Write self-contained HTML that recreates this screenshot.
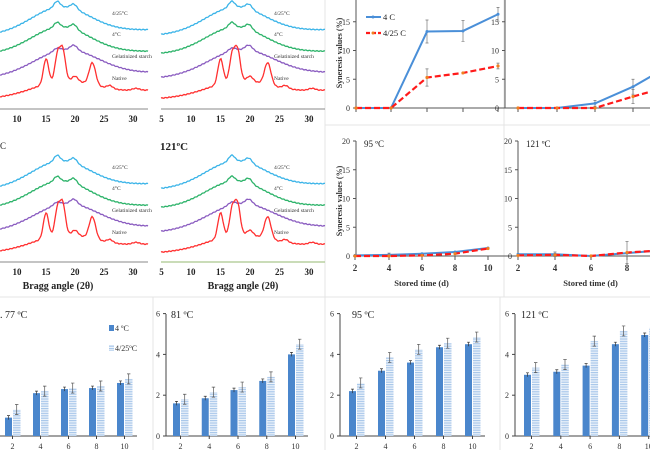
<!DOCTYPE html>
<html><head><meta charset="utf-8">
<style>
html,body{margin:0;padding:0;background:#fff;}
svg{display:block;font-family:"Liberation Serif",serif;}
</style></head>
<body>
<svg id="s" width="650" height="450" viewBox="0 0 650 450" xmlns="http://www.w3.org/2000/svg">
<defs>
<pattern id="hz" width="4" height="2.4" patternUnits="userSpaceOnUse">
<rect width="4" height="2.4" fill="#eef4fb"/><rect width="4" height="1.2" fill="#a9c7ea"/>
</pattern>
</defs>
<!-- panel separators -->
<g stroke="#e4e4e4" stroke-width="1">
<line x1="325" y1="0" x2="325" y2="297"/>
<line x1="504" y1="0" x2="504" y2="297"/>
<line x1="325" y1="125" x2="650" y2="125"/>
<line x1="0" y1="297" x2="650" y2="297"/>
<line x1="153" y1="297" x2="153" y2="450"/>
<line x1="325" y1="297" x2="325" y2="450"/>
<line x1="500" y1="297" x2="500" y2="450"/>
</g>
<g id="xrd"></g>
<g id="lines"></g>
<g id="bars"></g>
</svg>
<script>
const NS="http://www.w3.org/2000/svg";
function el(tag,attrs,parent,text){const e=document.createElementNS(NS,tag);for(const k in attrs)e.setAttribute(k,attrs[k]);if(text!==undefined)e.textContent=text;(parent||document.getElementById('s')).appendChild(e);return e;}
const g=(x,c,s)=>Math.exp(-0.5*((x-c)/s)**2);
// XRD panels
function xrd(x10,ppd,axisY,off,labelX,xmin,xmax,ticks){
  const X=t=>x10+(t-10)*ppd;
  const P=document.getElementById('xrd');
  el('line',{x1:xmin,y1:axisY,x2:xmax,y2:axisY,stroke:'#888','stroke-width':1},P);
  ticks.forEach(t=>el('text',{x:X(t),y:axisY+13,'font-size':9,'font-weight':'bold','text-anchor':'middle',fill:'#222'},P,t));
  const curves=[
   {c:'#3bb4e8',f:t=>35-(t-7)*0.2-26*g(t,17.5,5)-6*g(t,16.9,0.5)-5*g(t,19.8,0.55)+off*0},
   {c:'#2db36a',f:t=>54-(t-7)*0.1-26*g(t,17.5,5)-5*g(t,16.9,0.5)-5*g(t,19.8,0.55)},
   {c:'#8a5cc0',f:t=>78-(t-7)*0.2-26*g(t,18.5,5.5)-3*g(t,16.9,0.6)-5*g(t,19.8,0.6)},
   {c:'#ff3030',f:t=>98-(t-7)*0.3-14*g(t,18,5)-25*g(t,15,0.45)-27*g(t,17,0.45)-30*g(t,17.9,0.45)-5*g(t,20,0.5)-22*g(t,23,0.55)-3*g(t,26,0.5)-2*g(t,30.5,0.6)}
  ];
  curves.forEach(cv=>{let d='';for(let t=xmin;t<=xmax;t+=1){const th=10+(t-x10)/ppd;const y=cv.f(th)+off+Math.sin(t*1.7)*0.4;d+=(d?'L':'M')+t+','+y.toFixed(1);}
    el('path',{d:d,fill:'none',stroke:cv.c,'stroke-width':1.3},P);});
  const L=[['4/25°C',15],['4°C',36],['Gelatinized starch',58],['Native',80]];
  L.forEach(l=>el('text',{x:labelX,y:l[1]+off,'font-size':5.5,fill:'#333'},P,l[0]));
}
xrd(17,5.8,109,0,112,0,148,[10,15,20,25,30]);
xrd(191,5.9,109,0,274,161,325,[5,10,15,20,25,30]);
xrd(17,5.8,262,154,112,0,148,[10,15,20,25,30]);
xrd(191,5.9,262,154,274,161,325,[5,10,15,20,25,30]);
(function(){const P=document.getElementById('xrd');
el('text',{x:160,y:150,'font-size':11,'font-weight':'bold',fill:'#222'},P,'121ºC');
el('text',{x:0,y:149,'font-size':9,fill:'#222'},P,'C');
el('text',{x:58,y:289,'font-size':10,'font-weight':'bold','text-anchor':'middle',fill:'#222'},P,'Bragg angle (2θ)');
el('text',{x:243,y:289,'font-size':10,'font-weight':'bold','text-anchor':'middle',fill:'#222'},P,'Bragg angle (2θ)');
el('line',{x1:161,y1:262,x2:325,y2:262,stroke:'#b8d0a0','stroke-width':1.5},P);
})();
// line charts
function lineChart(ax,y0,xs,a,b,title,ylab,xlab,ea,eb){
  const P=document.getElementById('lines');const u=5.75;const Y=v=>y0-v*u;
  el('line',{x1:ax,y1:y0-115,x2:ax,y2:y0,stroke:'#555'},P);
  el('line',{x1:ax,y1:y0,x2:650,y2:y0,stroke:'#555'},P);
  [0,5,10,15,20].forEach(v=>{if(Y(v)<y0-116)return;el('line',{x1:ax-3,y1:Y(v),x2:ax,y2:Y(v),stroke:'#555'},P);el('text',{x:ax-6,y:Y(v)+3,'font-size':8,'text-anchor':'end',fill:'#333'},P,v);});
  xs.forEach(x=>el('line',{x1:x,y1:y0,x2:x,y2:y0+4,stroke:'#555'},P));
  if(xlab){[2,4,6,8,10].forEach((v,i)=>el('text',{x:xs[i],y:y0+15,'font-size':9,'font-weight':'bold','text-anchor':'middle',fill:'#333'},P,v));
    el('text',{x:(xs[0]+xs[4])/2,y:y0+30,'font-size':8.5,'font-weight':'bold','text-anchor':'middle',fill:'#333'},P,'Stored time (d)');}
  if(ylab)el('text',{x:0,y:0,'font-size':8,'font-weight':'bold','text-anchor':'middle',fill:'#333',transform:`translate(${ax-14},${y0-55}) rotate(-90)`},P,'Syneresis values (%)');
  if(title)el('text',{x:ax+8,y:y0-109,'font-size':9,fill:'#222'},P,title);
  // errors
  if(ea)ea.forEach((e,i)=>{if(!e)return;const x=xs[i];el('path',{d:`M${x},${Y(a[i]-e)}V${Y(a[i]+e)}M${x-1.5},${Y(a[i]-e)}h3M${x-1.5},${Y(a[i]+e)}h3`,stroke:'#777','stroke-width':0.7,fill:'none'},P);});
  if(eb)eb.forEach((e,i)=>{if(!e)return;const x=xs[i];el('path',{d:`M${x},${Y(b[i]-e)}V${Y(b[i]+e)}M${x-1.5},${Y(b[i]-e)}h3M${x-1.5},${Y(b[i]+e)}h3`,stroke:'#777','stroke-width':0.7,fill:'none'},P);});
  el('polyline',{points:xs.map((x,i)=>x+','+Y(a[i])).join(' '),fill:'none',stroke:'#4a8fd8','stroke-width':2},P);
  xs.forEach((x,i)=>el('circle',{cx:x,cy:Y(a[i]),r:1.5,fill:'#4a8fd8'},P));
  el('polyline',{points:xs.map((x,i)=>x+','+Y(b[i])).join(' '),fill:'none',stroke:'#ff1a1a','stroke-width':2.2,'stroke-dasharray':'6,3'},P);
  xs.forEach((x,i)=>el('circle',{cx:x,cy:Y(b[i]),r:1.6,fill:'#f08020'},P));
}
lineChart(356,108,[356,391,427,463,498],[0,0,13.3,13.4,16.3],[0,0,5.3,6.1,7.3],null,true,false,[0,0,2,1.8,1.2],[0,0,1.5,0,0.5]);
lineChart(505,108,[518,557,595,633,671],[0,0,0.8,3.7,7.5],[0,0,0,2,3.8],null,false,false,[0,0,0.5,1.3,0],[0,0,0,1.2,0]);
lineChart(356,256,[355,389,422,455,488],[0.1,0.2,0.4,0.7,1.4],[0,0,0.1,0.4,1.3],'95 ºC',true,true,[0,0.3,0,0,0],null);
lineChart(518,256,[518,555,591,627,663],[0.3,0.3,0,0.5,1],[0.1,0.2,0,0.6,1],'121 ºC',false,true,[0,0.4,0,0,0],[0,0,0,1.9,0]);
(function(){const P=document.getElementById('lines');
el('line',{x1:366,y1:17,x2:381,y2:17,stroke:'#4a8fd8','stroke-width':2},P);el('circle',{cx:373,cy:17,r:1.5,fill:'#4a8fd8'},P);
el('text',{x:383,y:20,'font-size':8.5,fill:'#222'},P,'4 C');
el('line',{x1:366,y1:33,x2:381,y2:33,stroke:'#ff1a1a','stroke-width':2.2,'stroke-dasharray':'4,2'},P);el('circle',{cx:373,cy:33,r:1.5,fill:'#f08020'},P);
el('text',{x:383,y:36,'font-size':8.5,fill:'#222'},P,'4/25 C');
el('text',{x:507,y:255+7,'font-size':0},P,'');
})();
// bar charts
function bars(ax,x0,sp,a,b,title,legend){
  const P=document.getElementById('bars');const y0=436,u=20.4;
  if(ax>0){el('line',{x1:ax,y1:314,x2:ax,y2:y0,stroke:'#444'},P);
  [0,2,4,6].forEach(v=>{el('line',{x1:ax-3,y1:y0-v*u,x2:ax,y2:y0-v*u,stroke:'#444'},P);el('text',{x:ax-6,y:y0-v*u+3,'font-size':8,'text-anchor':'end',fill:'#333'},P,v);});}
  el('line',{x1:Math.max(ax,0),y1:y0,x2:x0+sp*4+20,y2:y0,stroke:'#444'},P);
  a.forEach((v,i)=>{const x=x0+sp*i;
    el('rect',{x:x,y:y0-v*u,width:7,height:v*u,fill:'#4a86cc'},P);
    el('rect',{x:x+8,y:y0-b[i]*u,width:7.5,height:b[i]*u,fill:'url(#hz)'},P);
    el('path',{d:`M${x+3.5},${y0-v*u-2}v4M${x+2},${y0-v*u-2}h3`,stroke:'#333','stroke-width':0.7},P);
    el('path',{d:`M${x+11.7},${y0-b[i]*u-5}v10M${x+10},${y0-b[i]*u-5}h3.4M${x+10},${y0-b[i]*u+5}h3.4`,stroke:'#555','stroke-width':0.7},P);
    el('line',{x1:x+7.5,y1:y0,x2:x+7.5,y2:y0+3,stroke:'#444'},P);
    el('text',{x:x+7.5,y:y0+13,'font-size':8,'text-anchor':'middle',fill:'#333'},P,[2,4,6,8,10][i]);
  });
  el('text',{x:title[1],y:318,'font-size':10,fill:'#222'},P,title[0]);
  if(legend){el('rect',{x:109,y:325,width:5,height:6,fill:'#4a86cc'},P);el('text',{x:115,y:331,'font-size':8,fill:'#333'},P,'4 ºC');
    el('rect',{x:109,y:345,width:5,height:6,fill:'url(#hz)'},P);el('text',{x:115,y:351,'font-size':8,fill:'#333'},P,'4/25ºC');}
}
bars(0,5,28,[0.9,2.1,2.3,2.35,2.6],[1.3,2.2,2.35,2.45,2.8],['. 77 ºC',0],true);
bars(166,173,28.75,[1.6,1.85,2.25,2.7,4.0],[1.8,2.15,2.4,2.9,4.5],['81 ºC',171],false);
bars(340,349,29,[2.2,3.2,3.6,4.35,4.5],[2.6,3.85,4.25,4.55,4.85],['95 ºC',352],false);
bars(515,524,29.3,[3.0,3.15,3.45,4.5,4.95],[3.35,3.5,4.65,5.15,5.3],['121 ºC',521],false);
</script>
</body></html>
